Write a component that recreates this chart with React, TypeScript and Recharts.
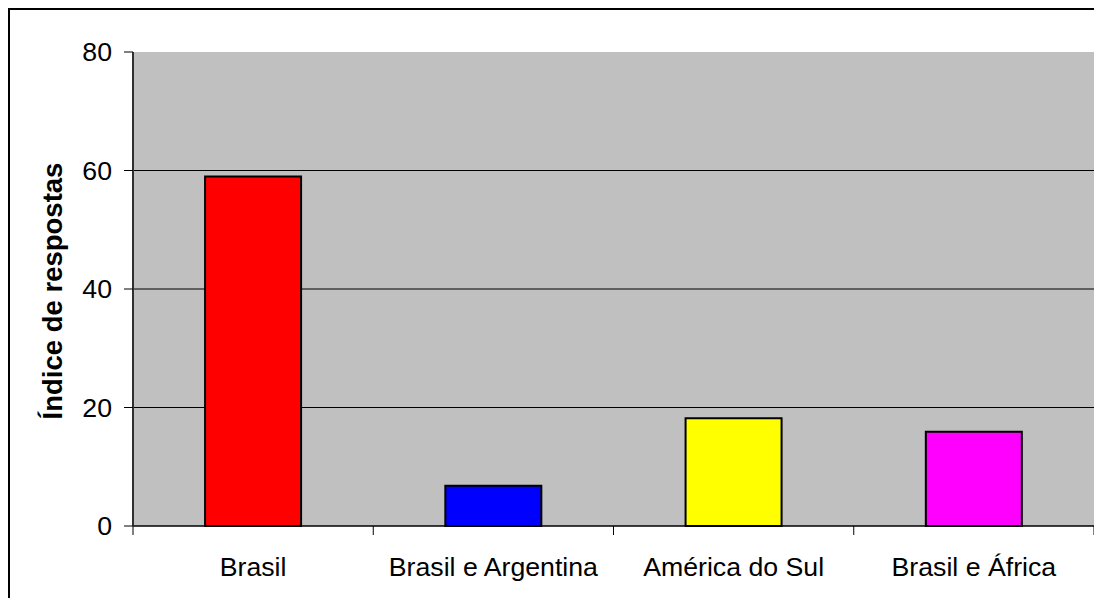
import { BarChart, Bar, XAxis, YAxis, CartesianGrid, Cell, Label } from "recharts";

const categories = ["Brasil", "Brasil e Argentina", "América do Sul", "Brasil e África"];
const values = [59, 6.8, 18.2, 15.9];
const barColors = ["#FF0000", "#0000FF", "#FFFF00", "#FF00FF"];
const yTicks = [0, 20, 40, 60, 80];
const gridValues = [20, 40, 60];

const data = categories.map((cat, i) => ({ cat, value: values[i] }));

const W = 1092;
const H = 580;
const M = { top: 42, right: 8, left: 0, bottom: 0 };
const Y_W = 123;
const X_H = 64;
const PLOT_W = W - M.left - M.right - Y_W;
const PLOT_BOTTOM = H - M.bottom - X_H;
const BAND = PLOT_W / categories.length;
const FONT = "'Liberation Sans', Arial, sans-serif";

const XTick = (props: any) => {
  const { x, payload, index } = props;
  const left = x - BAND / 2;
  const right = x + BAND / 2;
  return (
    <g>
      <line x1={left} x2={left} y1={PLOT_BOTTOM} y2={PLOT_BOTTOM + 9} stroke="#000" />
      {index === categories.length - 1 && (
        <line x1={right} x2={right} y1={PLOT_BOTTOM} y2={PLOT_BOTTOM + 9} stroke="#000" />
      )}
      <text x={x} y={PLOT_BOTTOM + 50} textAnchor="middle" fill="#000" fontSize={26.7} fontFamily={FONT}>
        {payload.value}
      </text>
    </g>
  );
};

const YTitle = (props: any) => {
  const { viewBox } = props;
  const cy = viewBox.y + viewBox.height / 2 + 2;
  const cx = 52;
  return (
    <text x={cx} y={cy} transform={`rotate(-90, ${cx}, ${cy})`} textAnchor="middle"
      fill="#000" fontSize={27.5} fontWeight="bold" fontFamily={FONT}>
      Índice de respostas
    </text>
  );
};

export default function App() {
  return (
    <div style={{ width: 1094, height: 590, overflow: "hidden", borderTop: "2px solid #000", borderLeft: "2px solid #000", boxSizing: "border-box", background: "#fff" }}>
      <BarChart width={W} height={H} data={data} margin={M} barCategoryGap="30%">
        <CartesianGrid fill="#C0C0C0" fillOpacity={1} stroke="#000" vertical={false}
          horizontalValues={gridValues} />
        <XAxis dataKey="cat" height={X_H} tickLine={false} tick={<XTick />} interval={0}
          axisLine={{ stroke: "#000", strokeWidth: 1.5 }} />
        <XAxis xAxisId="top" dataKey="cat" orientation="top" height={0} tick={false} tickLine={false}
          axisLine={{ stroke: "#808080", strokeWidth: 2 }} />
        <YAxis width={Y_W} domain={[0, 80]} ticks={yTicks} tickSize={9} tickMargin={12}
          tick={{ fontSize: 26.7, fill: "#000", fontFamily: FONT }}
          tickLine={{ stroke: "#000" }} axisLine={{ stroke: "#303030", strokeWidth: 2 }}>
          <Label content={<YTitle />} />
        </YAxis>
        <YAxis yAxisId="right" orientation="right" width={0} domain={[0, 80]} tick={false} tickLine={false}
          axisLine={{ stroke: "#808080", strokeWidth: 2 }} />
        <Bar dataKey="value" stroke="#000" strokeWidth={2} isAnimationActive={false}>
          {data.map((d, i) => (
            <Cell key={d.cat} fill={barColors[i]} />
          ))}
        </Bar>
      </BarChart>
    </div>
  );
}
